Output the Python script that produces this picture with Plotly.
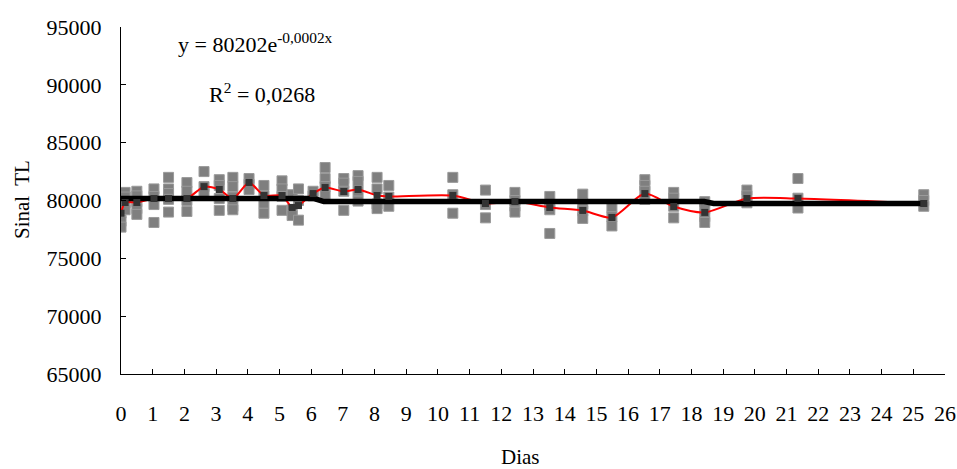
import plotly.graph_objects as go

# Dias (x) das médias
dias = [0.0, 0.13, 0.5, 1.04, 1.5, 2.08, 2.62, 3.1, 3.53, 4.04, 4.51, 5.08, 5.4, 5.6,
        6.06, 6.44, 7.03, 7.48, 8.08, 8.45, 10.47, 11.5, 12.43, 13.53, 14.57, 15.49,
        16.53, 17.44, 18.42, 19.75, 21.36, 25.33]
# Sinal TL médio
medias = [78900, 79830, 79830, 80170, 80170, 80170, 81200, 80950, 80170, 81560, 80430,
          80430, 79400, 79560, 80600, 81120, 80780, 80950, 80430, 80350, 80430, 79740,
          79910, 79400, 79140, 78530, 80600, 79480, 78970, 80170, 80170, 79740]
# Leituras individuais (réplicas) por dia
replicas = [
    [79500, 78900, 78200, 77700, 80200],
    [80700, 80300, 79800, 79200],
    [80800, 80400, 79900, 79300, 78800],
    [81000, 80350, 79650, 78100],
    [82000, 81000, 80600, 80100, 79000],
    [81550, 80800, 80000, 79050],
    [82500, 81200, 80600],
    [81800, 81300, 80170, 79150],
    [82000, 81200, 80300, 79500, 79200],
    [81900, 81400, 80950],
    [81300, 80400, 79750, 78900],
    [81700, 81000, 80350, 79150],
    [80500, 79200, 78700],
    [81000, 80000, 78300],
    [80800, 80400],
    [82850, 81900, 81200, 80400],
    [81900, 81500, 80800, 79150],
    [82150, 81650, 80800, 79950],
    [82000, 81000, 79700, 79300],
    [81300, 80300, 79500],
    [82000, 80500, 78900],
    [80900, 79650, 78500],
    [80700, 80000, 79500, 79000],
    [80350, 79600, 79200, 77150],
    [80550, 79700, 79100, 78450],
    [79400, 78600, 77800],
    [81800, 81300, 80800, 80100],
    [80700, 80200, 79500, 78500],
    [79900, 79300, 78600, 78100],
    [80900, 80400, 79800],
    [81900, 80200, 79350],
    [80500, 80000, 79500],
]
# Linha preta (tendência)
tend_x = [0.0, 6.1, 6.4, 18.4, 18.7, 25.33]
tend_y = [80170, 80170, 79910, 79910, 79740, 79740]

x_ticks = list(range(0, 27))
y_ticks = [65000, 70000, 75000, 80000, 85000, 90000, 95000]

rx, ry = [], []
for d, reps in zip(dias, replicas):
    for v in reps:
        rx.append(d)
        ry.append(v)

font_family = "Liberation Serif"

fig = go.Figure()
fig.add_trace(go.Scatter(x=rx, y=ry, mode="markers",
                         marker=dict(symbol="square", size=10, color="#7f7f7f",
                                     line=dict(color="#9a9a9a", width=1)),
                         hoverinfo="skip", showlegend=False))
fig.add_trace(go.Scatter(x=dias, y=medias, mode="lines",
                         line=dict(color="#ff0000", width=2, shape="spline", smoothing=0.7),
                         hoverinfo="skip", showlegend=False))
fig.add_trace(go.Scatter(x=tend_x, y=tend_y, mode="lines",
                         line=dict(color="#000000", width=5.5),
                         hoverinfo="skip", showlegend=False))
fig.add_trace(go.Scatter(x=dias, y=medias, mode="markers",
                         marker=dict(symbol="square", size=7, color="#333333"),
                         hoverinfo="skip", showlegend=False))

fig.add_annotation(x=0.163, y=0.955, xref="paper", yref="paper",
                   text="y = 80202e<sup>-0,0002x</sup>", showarrow=False,
                   xanchor="center", yanchor="middle",
                   font=dict(family=font_family, size=22, color="black"))
fig.add_annotation(x=0.171, y=0.81, xref="paper", yref="paper",
                   text="R<sup>2</sup> = 0,0268", showarrow=False,
                   xanchor="center", yanchor="middle",
                   font=dict(family=font_family, size=22, color="black"))
# Títulos dos eixos
fig.add_annotation(x=(520 - 121) / 824, y=-(457 - 374) / 347, xref="paper", yref="paper",
                   text="Dias", showarrow=False, xanchor="center", yanchor="middle",
                   font=dict(family=font_family, size=21, color="black"))
fig.add_annotation(x=-(121 - 22) / 824, y=(374 - 200) / 347, xref="paper", yref="paper",
                   text="Sinal  TL", showarrow=False, textangle=-90,
                   xanchor="center", yanchor="middle",
                   font=dict(family=font_family, size=21, color="black"))

fig.update_layout(
    width=957, height=469,
    margin=dict(l=121, r=12, t=27, b=95),
    plot_bgcolor="white", paper_bgcolor="white",
    font=dict(family=font_family, size=22, color="black"),
    xaxis=dict(range=[0, 26], tickmode="array", tickvals=x_ticks,
               ticktext=[str(t) for t in x_ticks], automargin=False,
               showgrid=False, zeroline=False, showline=True, linecolor="black",
               linewidth=1, ticks="inside", ticklen=5, tickcolor="black",
               ticklabelstandoff=20),
    yaxis=dict(range=[65000, 95000], tickmode="array", tickvals=y_ticks,
               ticktext=[str(t) for t in y_ticks], automargin=False,
               showgrid=False, zeroline=False, showline=True, linecolor="black",
               linewidth=1, ticks="inside", ticklen=5, tickcolor="black",
               ticklabelstandoff=14),
)

fig.write_html("out.html")
